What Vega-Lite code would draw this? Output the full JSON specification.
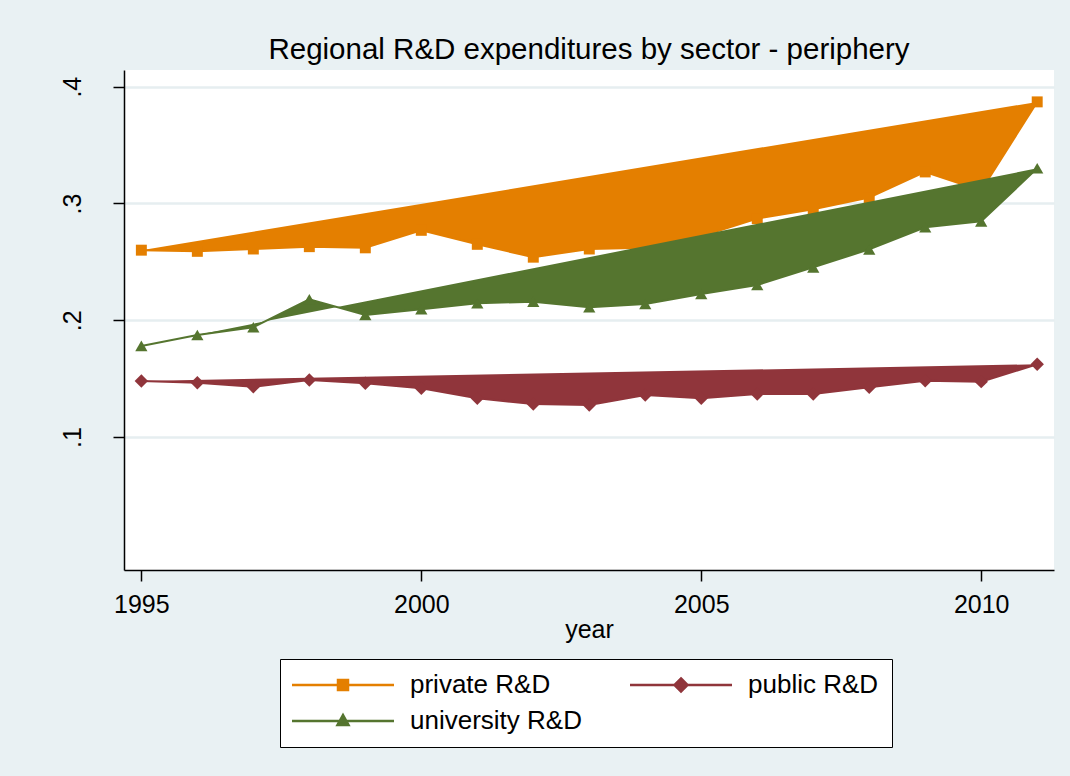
{
  "$schema": "https://vega.github.io/schema/vega-lite/v6.json",
  "width": 930,
  "height": 500,
  "autosize": "none",
  "padding": {"left": 124, "top": 70, "right": 16, "bottom": 206},
  "background": "#e9f1f3",
  "title": {"text": "Regional R&D expenditures by sector - periphery", "fontSize": 29.5, "font": "Liberation Sans", "fontWeight": "normal", "color": "black", "anchor": "middle", "baseline": "alphabetic", "offset": 0, "dy": 18},
  "config": {
    "view": {"fill": "white", "stroke": null},
    "font": "Liberation Sans",
    "axis": {"labelFont": "Liberation Sans", "titleFont": "Liberation Sans", "labelColor": "black", "titleColor": "black", "domainColor": "black", "tickColor": "black", "domainWidth": 1.5, "tickWidth": 1.5, "tickSize": 11, "labelFontSize": 25, "titleFontSize": 25, "titleFontWeight": "normal"}
  },
  "data": {"values": [
    {"year": 1995, "series": "private R&D", "value": 0.260},
    {"year": 1996, "series": "private R&D", "value": 0.259},
    {"year": 1997, "series": "private R&D", "value": 0.261},
    {"year": 1998, "series": "private R&D", "value": 0.263},
    {"year": 1999, "series": "private R&D", "value": 0.262},
    {"year": 2000, "series": "private R&D", "value": 0.277},
    {"year": 2001, "series": "private R&D", "value": 0.265},
    {"year": 2002, "series": "private R&D", "value": 0.254},
    {"year": 2003, "series": "private R&D", "value": 0.261},
    {"year": 2004, "series": "private R&D", "value": 0.262},
    {"year": 2005, "series": "private R&D", "value": 0.272},
    {"year": 2006, "series": "private R&D", "value": 0.287},
    {"year": 2007, "series": "private R&D", "value": 0.295},
    {"year": 2008, "series": "private R&D", "value": 0.305},
    {"year": 2009, "series": "private R&D", "value": 0.327},
    {"year": 2010, "series": "private R&D", "value": 0.311},
    {"year": 2011, "series": "private R&D", "value": 0.387},
    {"year": 1995, "series": "public R&D", "value": 0.148},
    {"year": 1996, "series": "public R&D", "value": 0.1465},
    {"year": 1997, "series": "public R&D", "value": 0.143},
    {"year": 1998, "series": "public R&D", "value": 0.1488},
    {"year": 1999, "series": "public R&D", "value": 0.146},
    {"year": 2000, "series": "public R&D", "value": 0.1417},
    {"year": 2001, "series": "public R&D", "value": 0.1331},
    {"year": 2002, "series": "public R&D", "value": 0.1283},
    {"year": 2003, "series": "public R&D", "value": 0.1274},
    {"year": 2004, "series": "public R&D", "value": 0.136},
    {"year": 2005, "series": "public R&D", "value": 0.1331},
    {"year": 2006, "series": "public R&D", "value": 0.1368},
    {"year": 2007, "series": "public R&D", "value": 0.1368},
    {"year": 2008, "series": "public R&D", "value": 0.1426},
    {"year": 2009, "series": "public R&D", "value": 0.1482},
    {"year": 2010, "series": "public R&D", "value": 0.1474},
    {"year": 2011, "series": "public R&D", "value": 0.1623},
    {"year": 1995, "series": "university R&D", "value": 0.178},
    {"year": 1996, "series": "university R&D", "value": 0.1874},
    {"year": 1997, "series": "university R&D", "value": 0.194},
    {"year": 1998, "series": "university R&D", "value": 0.218},
    {"year": 1999, "series": "university R&D", "value": 0.2045},
    {"year": 2000, "series": "university R&D", "value": 0.2094},
    {"year": 2001, "series": "university R&D", "value": 0.2145},
    {"year": 2002, "series": "university R&D", "value": 0.2159},
    {"year": 2003, "series": "university R&D", "value": 0.2111},
    {"year": 2004, "series": "university R&D", "value": 0.2139},
    {"year": 2005, "series": "university R&D", "value": 0.2225},
    {"year": 2006, "series": "university R&D", "value": 0.2302},
    {"year": 2007, "series": "university R&D", "value": 0.2453},
    {"year": 2008, "series": "university R&D", "value": 0.2607},
    {"year": 2009, "series": "university R&D", "value": 0.2796},
    {"year": 2010, "series": "university R&D", "value": 0.2847},
    {"year": 2011, "series": "university R&D", "value": 0.3301}
  ]},
  "encoding": {
    "x": {"field": "year", "type": "quantitative", "scale": {"domain": [1994.69, 2011.3], "nice": false, "zero": false},
      "axis": {"values": [1995, 2000, 2005, 2010], "format": "d", "grid": false, "labelPadding": 11, "title": "year", "titlePadding": 0, "labelFlush": false}},
    "y": {"field": "value", "type": "quantitative", "scale": {"domain": [-0.0139, 0.4143], "nice": false, "zero": false},
      "axis": {"values": [0.1, 0.2, 0.3, 0.4], "labelExpr": "'.' + round(datum.value * 10)", "title": null, "grid": true, "gridColor": "#e6eef0", "gridWidth": 2.5, "labelAngle": -90, "labelAlign": "center", "labelBaseline": "alphabetic", "labelPadding": 33}}
  },
  "layer": [
    {"transform": [{"filter": "datum.series === 'private R&D'"}],
     "mark": {"type": "line", "stroke": "#e47f00", "fill": "#e47f00", "strokeWidth": 2}},
    {"transform": [{"filter": "datum.series === 'private R&D'"}],
     "mark": {"type": "point", "shape": "square", "filled": true, "opacity": 1, "size": 120},
     "encoding": {"color": {"field": "series", "type": "nominal",
       "scale": {"domain": ["private R&D", "public R&D", "university R&D"], "range": ["#e47f00", "#90353b", "#55752f"]},
       "legend": {"orient": "none", "legendX": 156, "legendY": 589, "direction": "horizontal", "columns": 2, "title": null,
         "fillColor": "white", "strokeColor": "black", "padding": 13,
         "labelFont": "Liberation Sans", "labelFontSize": 26, "labelColor": "black", "labelOffset": 91, "labelLimit": 400,
         "symbolSize": 4, "symbolStrokeWidth": 2.5, "symbolOpacity": 1, "columnPadding": 43, "rowPadding": 10,
         "encode": {"symbols": {"update": {
           "shape": {"signal": "datum.value === 'private R&D' ? 'M-14,0H88M32,-5H42V5H32Z' : datum.value === 'public R&D' ? 'M-14,0H88M37,-6.5L43.5,0L37,6.5L30.5,0Z' : 'M-14,0H88M37,-6L42.5,4H31.5Z'"},
           "fill": {"signal": "scale('color', datum.value)"},
           "stroke": {"signal": "scale('color', datum.value)"}
         }}}
       }}}},
    {"transform": [{"filter": "datum.series === 'public R&D'"}],
     "mark": {"type": "line", "stroke": "#90353b", "fill": "#90353b", "strokeWidth": 2}},
    {"transform": [{"filter": "datum.series === 'public R&D'"}],
     "mark": {"type": "point", "shape": "diamond", "filled": true, "opacity": 1, "size": 180},
     "encoding": {"color": {"field": "series", "type": "nominal"}}},
    {"transform": [{"filter": "datum.series === 'university R&D'"}],
     "mark": {"type": "line", "stroke": "#55752f", "fill": "#55752f", "strokeWidth": 2}},
    {"transform": [{"filter": "datum.series === 'university R&D'"}],
     "mark": {"type": "point", "shape": "triangle-up", "filled": true, "opacity": 1, "size": 150},
     "encoding": {"color": {"field": "series", "type": "nominal"}}}
  ]
}
